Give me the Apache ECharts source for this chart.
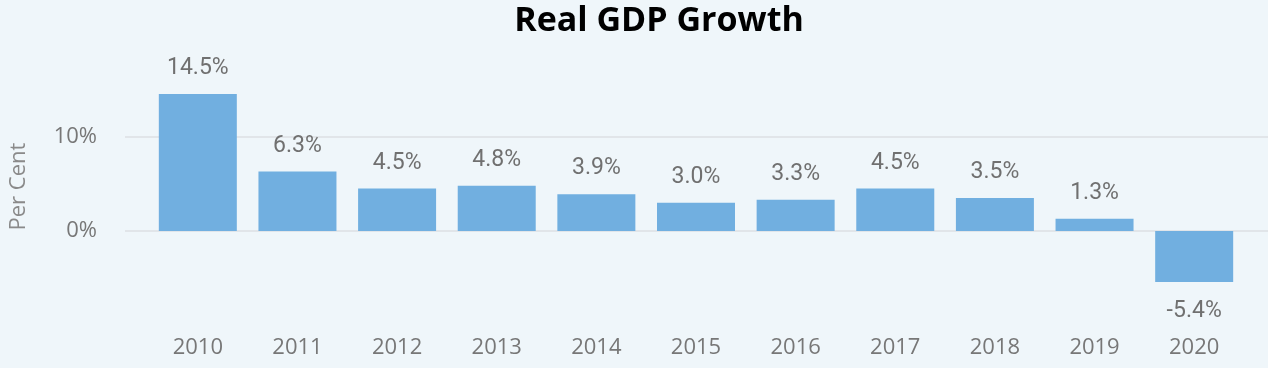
<!DOCTYPE html>
<html>
<head>
<meta charset="utf-8">
<script src="https://cdn.jsdelivr.net/npm/echarts@6/dist/echarts.min.js"></script>
<style>
html,body{margin:0;padding:0;background:#eff6fa;}
#c{width:1268px;height:368px;}
</style>
</head>
<body>
<div id="c"></div>
<script>
const categories = ['2010','2011','2012','2013','2014','2015','2016','2017','2018','2019','2020'];
const growth = [14.5, 6.3, 4.5, 4.8, 3.9, 3.0, 3.3, 4.5, 3.5, 1.3, -5.4];
const yTickValues = [0, 10];
const title = 'Real GDP Growth';
const yName = 'Per Cent';

const chart = echarts.init(document.getElementById('c'), null, {renderer: 'canvas'});
const labelColor = '#707070';
const barData = growth.map(v => ({
  value: v,
  label: {position: v < 0 ? 'bottom' : 'top', distance: v < 0 ? 18 : 14}
}));
chart.setOption({
  backgroundColor: '#eff6fa',
  animation: false,
  title: {
    text: title,
    left: 654,
    textAlign: 'center',
    top: -1,
    textStyle: {fontFamily: 'Open Sans', fontWeight: 'bold', fontSize: 34, color: '#000'}
  },
  grid: [
    {left: 119, right: 0, top: 89.25, bottom: 84.1},
    {left: 148, right: 24, top: 89.25, bottom: 42.5}
  ],
  xAxis: [
    {gridIndex: 0, type: 'category', data: categories, show: false},
    {gridIndex: 1, type: 'category', data: categories,
     axisLine: {show: false}, axisTick: {show: false},
     axisLabel: {margin: 11, fontFamily: 'Open Sans', fontSize: 22, color: '#777'}}
  ],
  yAxis: [
    {gridIndex: 0, type: 'value', min: -5.6, max: 15,
     name: yName, nameLocation: 'middle', nameGap: 95,
     nameTextStyle: {fontFamily: 'Open Sans', fontSize: 22, color: '#8a8a8a'},
     axisLine: {show: false}, axisTick: {show: false}, splitLine: {show: false},
     axisLabel: {customValues: yTickValues, margin: 28, fontFamily: 'Open Sans', fontSize: 22, color: '#777',
                 formatter: v => v + '%'}},
    {gridIndex: 1, type: 'value', min: -10, max: 15, show: false, splitLine: {show: false}}
  ],
  series: [
    {type: 'line', xAxisIndex: 0, yAxisIndex: 0, data: [], silent: true, zlevel: 0, z: 1,
     markLine: {symbol: 'none', silent: true, label: {show: false},
       lineStyle: {color: '#e1e5e9', width: 2, type: 'solid'},
       data: yTickValues.map(v => ({yAxis: v}))}},
    {type: 'bar', xAxisIndex: 1, yAxisIndex: 1, data: barData, barWidth: 78, zlevel: 1, z: 3,
     itemStyle: {color: '#71afe0'},
     label: {show: true, position: 'top', distance: 14,
       fontFamily: 'Roboto', fontSize: 23, color: labelColor,
       formatter: p => p.value.toFixed(1) + '%'}}
  ]
});
</script>
</body>
</html>
